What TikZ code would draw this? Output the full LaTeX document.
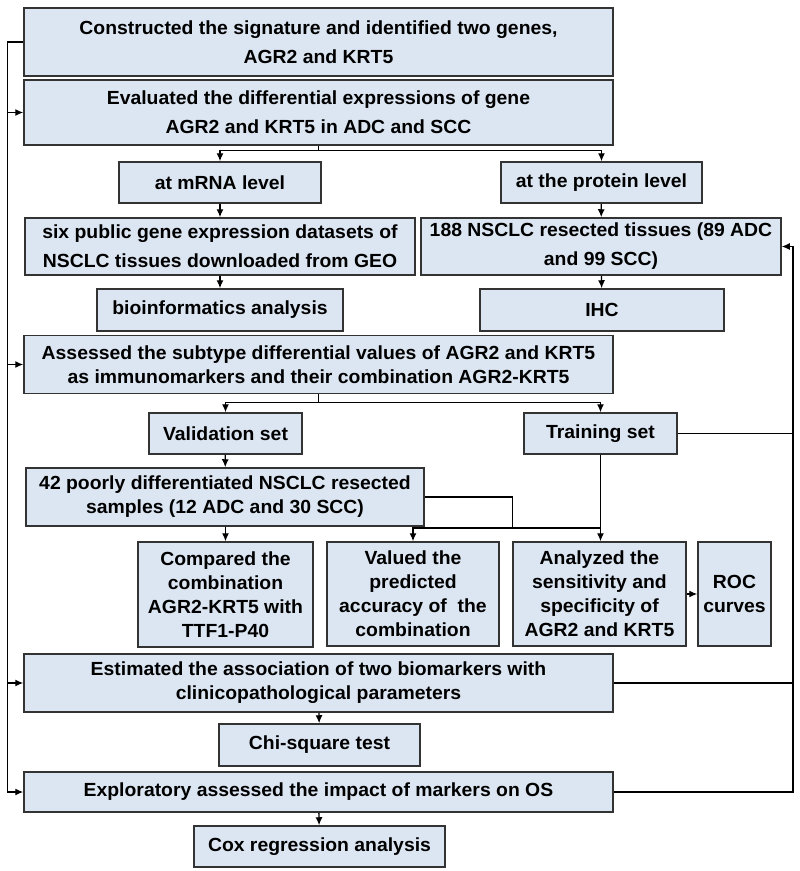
\documentclass[tikz,border=0pt]{standalone}
\usepackage{fontspec}
\setmainfont{Liberation Sans}[FakeStretch=1.02]
\usepackage{xcolor}
\usepackage{tikz}
\usetikzlibrary{arrows.meta, calc}
\definecolor{boxfill}{HTML}{DCE6F2}
\definecolor{boxline}{HTML}{333333}
\tikzset{>={Latex[length=8pt,width=7pt]}}
\tikzset{
  stepbox/.style={draw=boxline, fill=boxfill, line width=1.5pt, align=center,
    inner sep=0pt, font=\bfseries\fontsize{19}{24}\selectfont},
  widebox/.style={stepbox, font=\bfseries\fontsize{19}{29}\selectfont},
  link/.style={line width=1.3pt, draw=black}
}

\begin{document}
\begin{tikzpicture}[x=1pt, y=-1pt]
    \useasboundingbox (0,0) rectangle (800,871);

    % Top row
    \node[widebox, minimum width=589, minimum height=68] (construct) at (318.5,42) {Constructed the signature and identified two genes,\\AGR2 and KRT5};
    \node[widebox, minimum width=589, minimum height=65] (evaluate) at (318.5,112.5) {Evaluated the differential expressions of gene\\AGR2 and KRT5 in ADC and SCC};

    % mRNA and protein branches
    \node[stepbox, minimum width=202, minimum height=41] (mrna) at (220,182.5) {at mRNA level};
    \node[stepbox, minimum width=201, minimum height=41] (protein) at (601.5,182.5) {at the protein level};
    \node[widebox, minimum width=390, minimum height=57] (datasets) at (220,246.5) {six public gene expression datasets of\\NSCLC tissues downloaded from GEO};
    \node[widebox, minimum width=360, minimum height=57] (tissues) at (601,246.5) {188 NSCLC resected tissues (89 ADC\\and 99 SCC)};
    \node[stepbox, minimum width=246, minimum height=42] (bioinf) at (220,310) {bioinformatics analysis};
    \node[stepbox, minimum width=244, minimum height=42] (ihc) at (602,310) {IHC};

    % Subtype values
    \node[stepbox, minimum width=589, minimum height=58] (assess) at (318.5,364.5) {Assessed the subtype differential values of AGR2 and KRT5\\as immunomarkers and their combination AGR2-KRT5};
    \node[stepbox, minimum width=153, minimum height=41] (valid) at (225.5,433.5) {Validation set};
    \node[stepbox, minimum width=153, minimum height=41] (train) at (600.5,433.5) {Training set};
    \node[stepbox, minimum width=398, minimum height=58] (samples) at (225,497) {42 poorly differentiated NSCLC resected\\samples (12 ADC and 30 SCC)};

    % Four result boxes
    \node[stepbox, minimum width=175, minimum height=105] (compare) at (225.5,594.5) {Compared the\\combination\\AGR2-KRT5 with\\TTF1-P40};
    \node[stepbox, minimum width=172, minimum height=104] (value) at (413,594) {Valued the\\predicted\\accuracy of\ \ the\\combination};
    \node[stepbox, minimum width=173, minimum height=104] (analyze) at (599.5,594) {Analyzed the\\sensitivity and\\specificity of\\AGR2 and KRT5};
    \node[stepbox, minimum width=73, minimum height=104] (roc) at (734.5,594) {ROC\\curves};

    % Clinical parameters and survival
    \node[stepbox, minimum width=589, minimum height=58] (estimate) at (318.5,683) {Estimated the association of two biomarkers with\\clinicopathological parameters};
    \node[stepbox, minimum width=201, minimum height=42] (chi) at (319.5,745) {Chi-square test};
    \node[stepbox, minimum width=589, minimum height=40] (explore) at (318.5,792) {Exploratory assessed the impact of markers on OS};
    \node[stepbox, minimum width=251, minimum height=41] (cox) at (319.5,846.5) {Cox regression analysis};

    % Left feedback line
    \draw[link] (construct.west) -- ++(-16,0) coordinate (ltop) -- (ltop |- explore.west);
    \draw[link, ->] (ltop |- evaluate.west) -- (evaluate.west);
    \draw[link, ->] (ltop |- assess.west) -- (assess.west);
    \draw[link, ->] (ltop |- estimate.west) -- (estimate.west);
    \draw[link, ->] (ltop |- explore.west) -- (explore.west);

    % Branches
    \draw[link, ->] (evaluate.south) -- ++(0,5) -| (mrna.north);
    \draw[link, ->] (evaluate.south) -- ++(0,5) -| (protein.north);
    \draw[link, ->] (mrna) -- (datasets);
    \draw[link, ->] (datasets) -- (bioinf);
    \draw[link, ->] (protein) -- (tissues);
    \draw[link, ->] (tissues) -- (ihc);
    \draw[link, ->] (assess.south) -- ++(0,8) -| (valid.north);
    \draw[link, ->] (assess.south) -- ++(0,8) -| (train.north);
    \draw[link, ->] (valid) -- (samples);
    \draw[link, ->] (samples.south -| compare.north) -- (compare.north);
    \draw[link, ->] (train.south) -- (train.south |- analyze.north);
    \draw[link] (samples.east) -| ++(88,31) coordinate (join);
    \draw[link, ->] (train.south |- join) -| (value.north);
    \draw[link, ->] (analyze.east) -- (roc.west);
    \draw[link, ->] (estimate) -- (chi);
    \draw[link, ->] (explore) -- (cox);

    % Right feedback line
    \coordinate (rgt) at (793,0);
    \draw[link] (train.east) -- (train.east -| rgt);
    \draw[link] (estimate.east) -- (estimate.east -| rgt);
    \draw[link, ->] (explore.east) -- (explore.east -| rgt) -- (rgt |- tissues.east) -- (tissues.east);
\end{tikzpicture}
\end{document}
